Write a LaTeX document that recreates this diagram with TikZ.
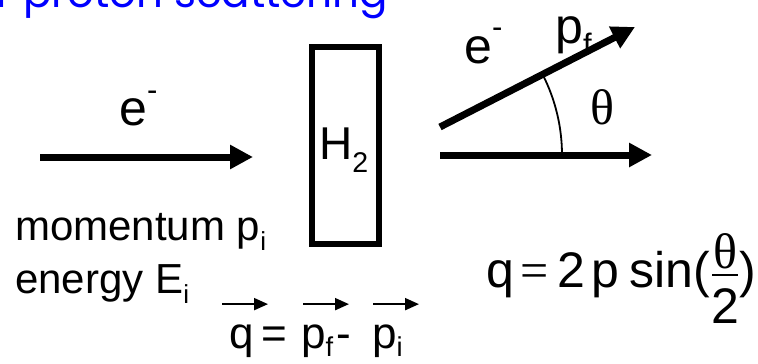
\documentclass[tikz,border=0pt]{standalone}
\usepackage{fontspec}
\setmainfont{Liberation Sans}
\newfontfamily\titlefont{Poppins}
\newfontfamily\greekfont{Liberation Serif}
\usetikzlibrary{arrows.meta, positioning}
\definecolor{titleblue}{RGB}{0,0,255}
\newcommand{\lowsub}[2][0.25em]{\raisebox{-#1}{\scalebox{0.62}{#2}}}
\newcommand{\highsup}[1]{\raisebox{0.5em}{\scalebox{0.62}{#1}}}
\tikzset{
  beam/.style={-{Triangle[length=23pt,width=23pt]}, line width=7pt},
  vecarrow/.style={-{Triangle[length=14pt,width=12pt]}, line width=2pt},
  lbl/.style={inner sep=0pt, anchor=base west, font=\fontsize{42}{48}\selectfont},
  big/.style={font=\fontsize{50}{56}\selectfont},
  mid/.style={font=\fontsize{44}{50}\selectfont},
  greek/.style={font=\greekfont\fontsize{50}{56}\selectfont},
  target/.style={rectangle, draw, line width=6.5pt, minimum width=67pt,
                 minimum height=197pt, inner sep=0pt},
}

\begin{document}
\begin{tikzpicture}[x=1pt, y=-1pt]
    \clip (0,0) rectangle (758,364);
    % title, cut at the top edge
    \node[lbl, font=\titlefont\fontsize{42}{44}\selectfont, text=titleblue] (title) at (-4,8) {r proton scattering};

    % incoming electron
    \coordinate (inStart) at (40,157);
    \coordinate (inEnd) at (253,157);
    \draw[beam] (inStart) -- (inEnd);
    \node[lbl, big] (eIn) at (119,125) {e\highsup{-}};
    \node[lbl] (mom) at (15,240) {momentum p\lowsub{i}};
    \node[lbl] (ener) at (15,293) {energy E\lowsub{i}};

    % hydrogen target
    \node[target] (gas) at (345.5,145.5) {};
    \node[lbl, font=\fontsize{46}{50}\selectfont] (htwo) at (319,159) {H\lowsub[0.3em]{2}};

    % scattered and forward directions
    \coordinate (vertex) at (385,155);
    \coordinate (outStart) at (440,127);
    \coordinate (outEnd) at (635,27);
    \coordinate (fwdStart) at (440,155);
    \coordinate (fwdEnd) at (652,155);
    \draw[beam] (outStart) -- (outEnd);
    \draw[beam] (fwdStart) -- (fwdEnd);
    \draw[line width=1.8pt] ([xshift=177pt]vertex) arc[start angle=0, end angle=27, radius=177pt];
    \node[inner sep=0pt, greek] (theta) at (602,107) {θ};
    \node[lbl, big] (eOut) at (464,63) {e\highsup{-}};
    \node[lbl, big] (pf) at (555,43) {p\lowsub{f}};

    % momentum transfer
    \node[lbl, mid] (qVec) at (229,348) {q};
    \node[lbl, mid] (eqVec) at (261,348) {=};
    \node[lbl, mid] (pfVec) at (301,348) {p\lowsub[0.2em]{f}};
    \node[lbl, mid] (minusVec) at (336,348) {-};
    \node[lbl, mid] (piVec) at (372,348) {p\lowsub[0.2em]{i}};
    \draw[vecarrow] ([shift={(-7,-20)}]qVec.north west) -- ++(46,0);
    \draw[vecarrow] ([shift={(2,-20)}]pfVec.north west) -- ++(46,0);
    \draw[vecarrow] ([shift={(1,-20)}]piVec.north west) -- ++(46,0);

    % q from the angle
    \node[lbl, big] (qSin) at (486,287) {q};
    \node[lbl, greek] (eqSin) at (520,287) {=};
    \node[lbl, big] (two) at (557,287) {2};
    \node[lbl, big] (pSin) at (591,287) {p};
    \node[lbl, big] (sinPart) at (629,287) {sin(};
    \coordinate (barL) at (712,275);
    \coordinate (barR) at (738,275);
    \draw[line width=1.5pt] (barL) -- (barR);
    \node[inner sep=0pt, anchor=base, greek] (num) at (725,268) {θ};
    \node[inner sep=0pt, anchor=base, big] (den) at (725,323) {2};
    \node[lbl, big] (rpar) at (739,287) {)};
\end{tikzpicture}
\end{document}
